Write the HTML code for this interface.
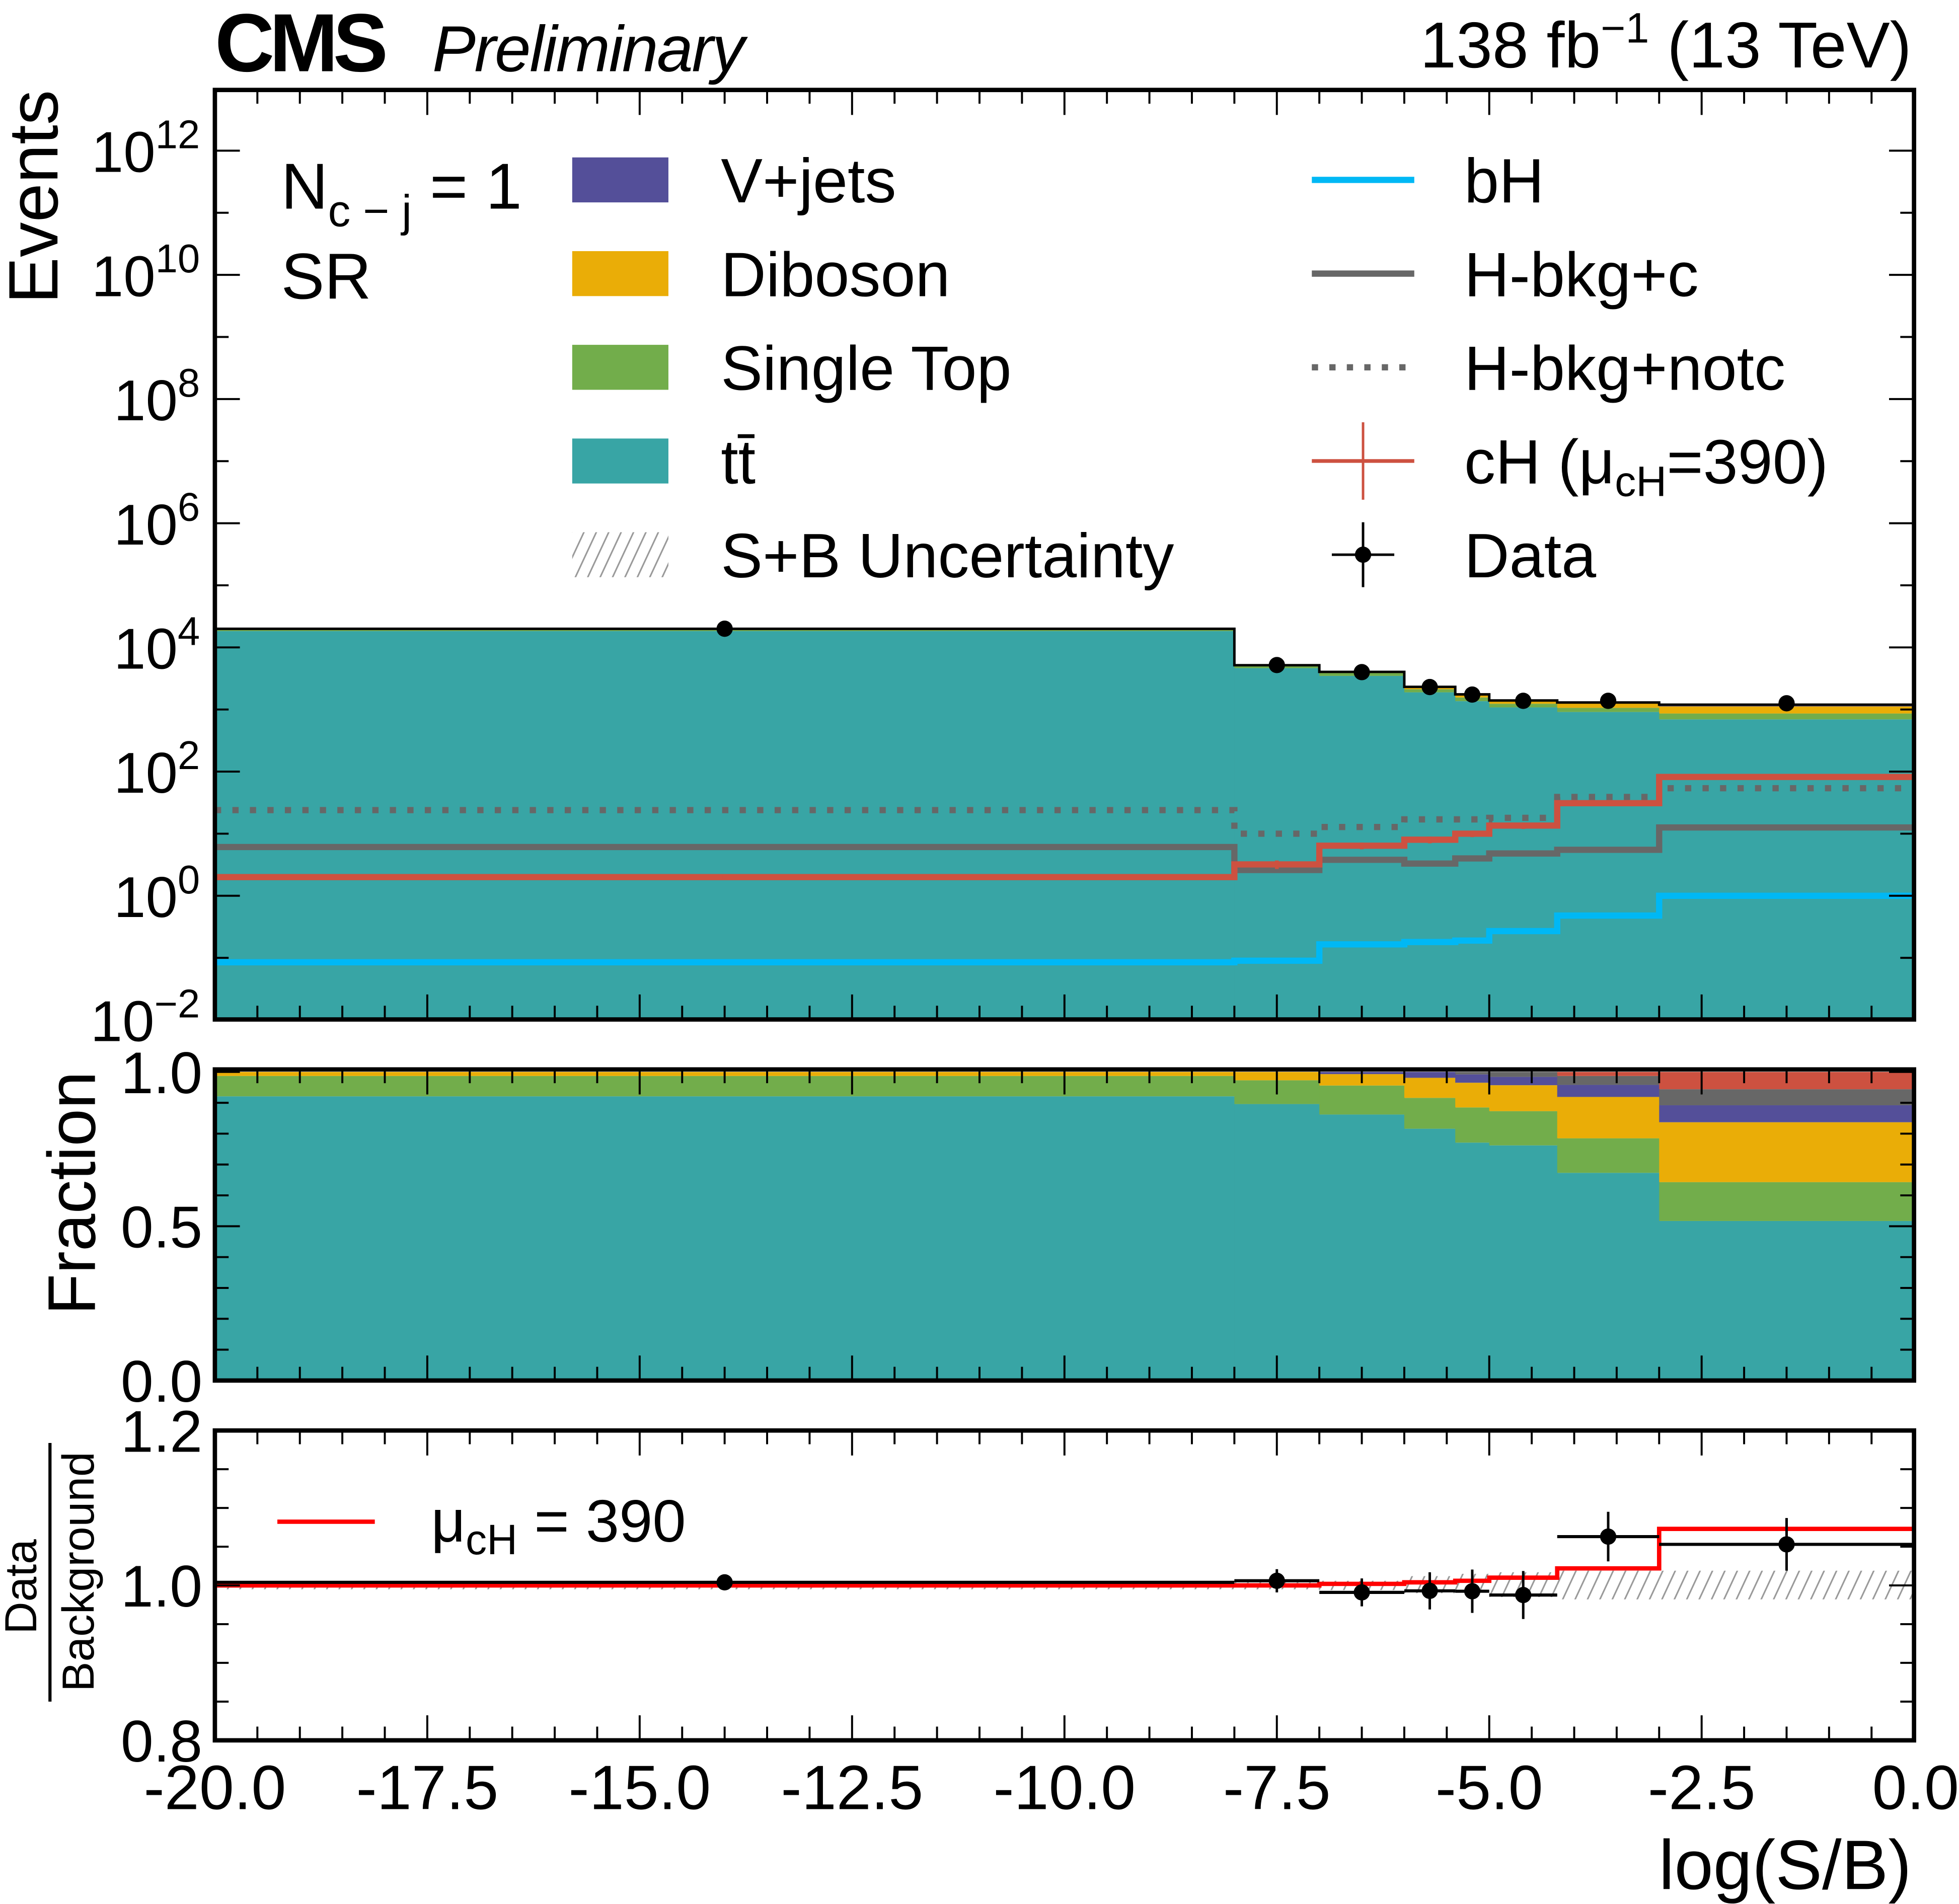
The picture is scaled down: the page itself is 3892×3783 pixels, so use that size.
<!DOCTYPE html>
<html><head><meta charset="utf-8"><style>
html,body{margin:0;padding:0;background:#fff;}
svg{display:block;font-family:"Liberation Sans",sans-serif;}
</style></head><body>
<svg id="chart" width="3892" height="3783" viewBox="0 0 1568 1524" preserveAspectRatio="none" xmlns="http://www.w3.org/2000/svg">
<defs>
<pattern id="hatch" patternUnits="userSpaceOnUse" width="9" height="9" patternTransform="rotate(25)">
<line x1="0" y1="0" x2="0" y2="9" stroke="#999" stroke-width="2.5"/>
</pattern>
<clipPath id="clipMain"><rect x="172" y="72" width="1360" height="744"/></clipPath>
<clipPath id="clipRatio"><rect x="172" y="1145" width="1360" height="248"/></clipPath>
</defs>
<g id="layer"></g>
<text x="172" y="57" font-size="66" font-weight="bold" letter-spacing="-4">CMS</text>
<text x="346" y="57" font-size="52" font-style="italic" letter-spacing="-1">Preliminary</text>
<text x="1530" y="54" font-size="52" text-anchor="end">138 fb<tspan dy="-20" font-size="34">−1</tspan><tspan dy="20"> (13 TeV)</tspan></text>
<text transform="translate(46,72) rotate(-90)" font-size="56" text-anchor="end">Events</text>
<text transform="translate(76,955) rotate(-90)" font-size="54" text-anchor="middle">Fraction</text>
<g>
<text transform="translate(29,1270) rotate(-90)" font-size="36" text-anchor="middle">Data</text>
<line x1="40" y1="1155" x2="40" y2="1362" stroke="#000" stroke-width="2.5"/>
<text transform="translate(75,1258) rotate(-90)" font-size="36" text-anchor="middle">Background</text>
</g>
<text x="1530" y="1512" font-size="56" text-anchor="end">log(S/B)</text>
<text x="225" y="167" font-size="52">N<tspan dy="14" font-size="36">c − j</tspan><tspan dy="-14"> = 1</tspan></text>
<text x="225" y="239" font-size="52">SR</text>
</svg>
<script>
// ---------------- data ----------------
const binEdges = [-20, -8, -7, -6, -5.4, -5.0, -4.2, -3, 0];
const dataCenters = [-14, -7.5, -6.5, -5.7, -5.2, -4.6, -3.6, -1.5];
const dataYields = [20000, 5200, 4000, 2300, 1740, 1380, 1380, 1260];
const dataRatio = [1.004, 1.006, 0.991, 0.993, 0.9925, 0.9876, 1.063, 1.053];
const dataRatioErr = [0.006, 0.015, 0.018, 0.024, 0.028, 0.031, 0.032, 0.034];
const fracTtbar = [0.921, 0.896, 0.862, 0.816, 0.771, 0.762, 0.673, 0.517];
const fracSingleTop = [0.066, 0.077, 0.094, 0.100, 0.114, 0.111, 0.112, 0.126];
const fracDiboson = [0.013, 0.027, 0.037, 0.065, 0.080, 0.084, 0.134, 0.194];
const fracVjets = [0, 0, 0.007, 0.019, 0.027, 0.027, 0.039, 0.055];
const fracHbkg = [0, 0, 0, 0, 0.008, 0.016, 0.029, 0.052];
const fracCH = [0, 0, 0, 0, 0, 0, 0.013, 0.056];
const bHYields = [0.085, 0.09, 0.165, 0.18, 0.19, 0.27, 0.48, 1.0];
const hbkgCYields = [6.1, 2.6, 3.8, 3.3, 4.0, 4.8, 5.5, 12.6];
const hbkgNotcYields = [24, 10, 12.8, 17, 17, 18, 39, 54];
const cHYields = [2.0, 3.2, 6.4, 8.0, 10.0, 13.5, 31, 82];
const cHErr = [0.15, 0.5, 0.8, 1.0, 1.2, 1.6, 3.0, 7];
const muRatio = [1.0, 1.0, 1.002, 1.004, 1.006, 1.01, 1.022, 1.073];
const uncUp = [1.004, 1.004, 1.006, 1.012, 1.015, 1.017, 1.019, 1.019];
const uncDown = [0.995, 0.995, 0.994, 0.99, 0.988, 0.985, 0.982, 0.982];
const xTicks = ["-20.0", "-17.5", "-15.0", "-12.5", "-10.0", "-7.5", "-5.0", "-2.5", "0.0"];
const logTicks = [-2, 0, 2, 4, 6, 8, 10, 12];
const fracTicks = ["0.0", "0.5", "1.0"];
const ratioTicks = ["0.8", "1.0", "1.2"];

// ---------------- axes ----------------
const X0 = 172, X1 = 1532;
const MT = 72, MB = 816, FT = 856, FB = 1105, RT = 1145, RB = 1393;
const xs = v => X0 + (v + 20) / 20 * (X1 - X0);
const yLog = v => 717 - 49.7 * Math.log10(v);
const yFrac = v => 1105 - 247 * v;
const yRat = v => 1269 - 620 * (v - 1.0);
const NS = "http://www.w3.org/2000/svg";
const layer = document.getElementById('layer');
function mk(tag, attrs, parent) {
  const e = document.createElementNS(NS, tag);
  for (const k in attrs) e.setAttribute(k, attrs[k]);
  (parent || layer).appendChild(e);
  return e;
}
const nb = dataYields.length;
const totals = dataYields.map((d, i) => d / dataRatio[i]);

// ---------------- main panel ----------------
const gMain = mk('g', {'clip-path': 'url(#clipMain)'});


const stackDefs = [
  ['ttbar', fracTtbar, '#38a5a5'],
  ['single-top', fracSingleTop, '#72ad4b'],
  ['diboson', fracDiboson, '#eaad07'],
  ['vjets', fracVjets, '#544f99']
];
for (let i = 0; i < nb; i++) {
  let cum = 0;
  const bkgSum = fracTtbar[i] + fracSingleTop[i] + fracDiboson[i] + fracVjets[i];
  stackDefs.forEach(([nm, arr, col]) => {
    const lo = cum; cum += arr[i];
    const yl = lo <= 0 ? MB + 5 : yLog(totals[i] * lo / bkgSum);
    const yh = yLog(totals[i] * cum / bkgSum);
    if (arr[i] <= 0) return;
    const r = mk('rect', {x: xs(binEdges[i]), y: yh, width: xs(binEdges[i + 1]) - xs(binEdges[i]) + 0.5, height: Math.max(0, yl - yh), fill: col}, gMain);
    
    
  });
}
function stepPath(vals, yf) {
  let d = '';
  for (let i = 0; i < vals.length; i++) {
    const y = yf(vals[i]);
    d += (i === 0 ? 'M' : 'L') + xs(binEdges[i]) + ',' + y + 'L' + xs(binEdges[i + 1]) + ',' + y;
  }
  return d;
}
const tot = mk('path', {d: stepPath(totals, yLog), fill: 'none', stroke: '#000', 'stroke-width': 2}, gMain);


const bh = mk('path', {d: stepPath(bHYields, yLog), fill: 'none', stroke: '#00b8f5', 'stroke-width': 5}, gMain);


const hc = mk('path', {d: stepPath(hbkgCYields, yLog), fill: 'none', stroke: '#676767', 'stroke-width': 5}, gMain);


const hn = mk('path', {d: stepPath(hbkgNotcYields, yLog), fill: 'none', stroke: '#676767', 'stroke-width': 5, 'stroke-dasharray': '5,9'}, gMain);


const ch = mk('path', {d: stepPath(cHYields, yLog), fill: 'none', stroke: '#cd5140', 'stroke-width': 5}, gMain);


for (let i = 0; i < nb; i++) {
  const e = mk('line', {x1: xs(dataCenters[i]), x2: xs(dataCenters[i]), y1: yLog(cHYields[i] + cHErr[i]), y2: yLog(Math.max(0.01, cHYields[i] - cHErr[i])), stroke: '#cd5140', 'stroke-width': 3}, gMain);
  
  
}
for (let i = 0; i < nb; i++) {
  const c = mk('circle', {cx: xs(dataCenters[i]), cy: yLog(dataYields[i]), r: 6.5, fill: '#000'}, gMain);
  
  
}

// ---------------- fraction panel ----------------
const gFrac = mk('g', {});


const fracDefs = [
  ['ttbar', fracTtbar, '#38a5a5'], ['single-top', fracSingleTop, '#72ad4b'],
  ['diboson', fracDiboson, '#eaad07'], ['vjets', fracVjets, '#544f99'],
  ['hbkg', fracHbkg, '#676767'], ['ch', fracCH, '#cd5140']
];
for (let i = 0; i < nb; i++) {
  let cum = 0;
  fracDefs.forEach(([nm, arr, col]) => {
    const lo = cum; cum += arr[i];
    if (arr[i] <= 0) return;
    const top = Math.min(cum, 1.0);
    const r = mk('rect', {x: xs(binEdges[i]), y: yFrac(top), width: xs(binEdges[i + 1]) - xs(binEdges[i]) + 0.5, height: yFrac(lo) - yFrac(top), fill: col}, gFrac);
    
    
  });
}

// ---------------- ratio panel ----------------
const gRat = mk('g', {'clip-path': 'url(#clipRatio)'});


for (let i = 0; i < nb; i++) {
  const r = mk('rect', {x: xs(binEdges[i]), y: yRat(uncUp[i]), width: xs(binEdges[i + 1]) - xs(binEdges[i]), height: yRat(uncDown[i]) - yRat(uncUp[i]), fill: 'url(#hatch)'}, gRat);
  
  
}
const mu = mk('path', {d: stepPath(muRatio, yRat), fill: 'none', stroke: '#ff0000', 'stroke-width': 3.5}, gRat);


for (let i = 0; i < nb; i++) {
  const cx = xs(dataCenters[i]), cy = yRat(dataRatio[i]);
  const h = mk('line', {x1: xs(binEdges[i]), x2: xs(binEdges[i + 1]), y1: cy, y2: cy, stroke: '#000', 'stroke-width': 2.5}, gRat);
  
  
  const v = mk('line', {x1: cx, x2: cx, y1: yRat(dataRatio[i] + dataRatioErr[i]), y2: yRat(dataRatio[i] - dataRatioErr[i]), stroke: '#000', 'stroke-width': 2}, gRat);
  
  
  const c = mk('circle', {cx: cx, cy: cy, r: 6.5, fill: '#000'}, gRat);
  
  
}
const ml = mk('line', {x1: 222, x2: 300, y1: 1218, y2: 1218, stroke: '#ff0000', 'stroke-width': 3.5});


const mt = mk('text', {x: 345, y: 1234, 'font-size': 48});


mt.innerHTML = 'μ<tspan dy="10" font-size="34">cH</tspan><tspan dy="-10"> = 390</tspan>';

// ---------------- frames & ticks ----------------
function frame(top, bot, name) {
  const f = mk('rect', {x: X0, y: top, width: X1 - X0, height: bot - top, fill: 'none', stroke: '#000', 'stroke-width': 3.5});
  
  
  for (let v = -20; v <= 0.001; v += 0.5) {
    const major = Math.abs(v / 2.5 - Math.round(v / 2.5)) < 1e-6;
    const L = major ? 20 : 11;
    mk('line', {x1: xs(v), x2: xs(v), y1: top, y2: top + L, stroke: '#000', 'stroke-width': 1.6});
    mk('line', {x1: xs(v), x2: xs(v), y1: bot, y2: bot - L, stroke: '#000', 'stroke-width': 1.6});
  }
}
frame(MT, MB, 'main-frame');
frame(FT, FB, 'fraction-frame');
frame(RT, RB, 'ratio-frame');
function yTick(y, major) {
  const L = major ? 20 : 11;
  mk('line', {x1: X0, x2: X0 + L, y1: y, y2: y, stroke: '#000', 'stroke-width': 1.6});
  mk('line', {x1: X1, x2: X1 - L, y1: y, y2: y, stroke: '#000', 'stroke-width': 1.6});
}
for (let p = -1; p <= 12; p++) yTick(yLog(Math.pow(10, p)), p % 2 === 0);
logTicks.forEach(p => {
  const t = mk('text', {x: 160, y: yLog(Math.pow(10, p)) + 17, 'font-size': 46, 'text-anchor': 'end'});
  
  
  t.innerHTML = '10<tspan dy="-19" font-size="32">' + (p < 0 ? '−' + (-p) : p) + '</tspan>';
});
for (let v = 0; v <= 1.001; v += 0.1) yTick(yFrac(v), Math.abs(v * 2 - Math.round(v * 2)) < 1e-6);
fracTicks.forEach(s => {
  const t = mk('text', {x: 162, y: yFrac(parseFloat(s)) + 17, 'font-size': 47, 'text-anchor': 'end'});
  
  
  t.textContent = s;
});
for (let v = 0.8; v <= 1.201; v += 0.05) yTick(yRat(v), Math.abs(v * 5 - Math.round(v * 5)) < 1e-6);
ratioTicks.forEach(s => {
  const t = mk('text', {x: 162, y: yRat(parseFloat(s)) + 17, 'font-size': 47, 'text-anchor': 'end'});
  
  
  t.textContent = s;
});
xTicks.forEach(s => {
  const v = parseFloat(s);
  const anchor = v === 0 ? 'end' : 'middle';
  const t = mk('text', {x: v === 0 ? 1568 : xs(v), y: 1448, 'font-size': 50, 'text-anchor': anchor});
  
  
  t.textContent = s;
});

// ---------------- legend ----------------
const legBoxes = [['V+jets', '#544f99', 144], ['Diboson', '#eaad07', 219], ['Single Top', '#72ad4b', 294], ['tt̄', '#38a5a5', 369]];
legBoxes.forEach(([lab, col, y]) => {
  const r = mk('rect', {x: 458, y: y - 18, width: 77, height: 36, fill: col});
  
  
  const t = mk('text', {x: 577, y: y + 18, 'font-size': 50});
  
  
  t.textContent = lab;
});
const hr = mk('rect', {x: 458, y: 426, width: 77, height: 36, fill: 'url(#hatch)'});


const ht = mk('text', {x: 577, y: 462, 'font-size': 50});


ht.textContent = 'S+B Uncertainty';
const legLines = [['bH', '#00b8f5', 144, ''], ['H-bkg+c', '#676767', 219, ''], ['H-bkg+notc', '#676767', 294, '5,9']];
legLines.forEach(([lab, col, y, dash]) => {
  const l = mk('line', {x1: 1050, x2: 1132, y1: y, y2: y, stroke: col, 'stroke-width': 5, 'stroke-dasharray': dash || 'none'});
  
  
  const t = mk('text', {x: 1172, y: y + 18, 'font-size': 50});
  
  
  t.textContent = lab;
});
mk('line', {x1: 1050, x2: 1132, y1: 369, y2: 369, stroke: '#cd5140', 'stroke-width': 3});
mk('line', {x1: 1091, x2: 1091, y1: 338, y2: 400, stroke: '#cd5140', 'stroke-width': 2});
const cht = mk('text', {x: 1172, y: 387, 'font-size': 50});


cht.innerHTML = 'cH (μ<tspan dy="10" font-size="34">cH</tspan><tspan dy="-10">=390)</tspan>';
mk('line', {x1: 1066, x2: 1116, y1: 444, y2: 444, stroke: '#000', 'stroke-width': 2});
mk('line', {x1: 1091, x2: 1091, y1: 418, y2: 470, stroke: '#000', 'stroke-width': 2});
const dc = mk('circle', {cx: 1091, cy: 444, r: 6.5, fill: '#000'});


const dt = mk('text', {x: 1172, y: 462, 'font-size': 50});


dt.textContent = 'Data';
</script>
</body></html>
